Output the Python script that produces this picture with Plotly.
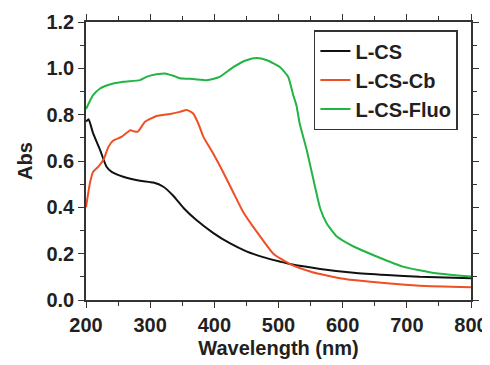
import plotly.graph_objects as go

# L-CS (black)
wl_cs = [200, 204, 211, 222, 232, 240, 258, 284, 305, 320, 336, 352, 372, 398, 424, 450, 476, 502, 518, 565, 617, 669, 720, 800]
abs_cs = [0.77, 0.78, 0.72, 0.647, 0.575, 0.553, 0.532, 0.515, 0.507, 0.49, 0.45, 0.397, 0.345, 0.29, 0.245, 0.21, 0.185, 0.166, 0.155, 0.134, 0.118, 0.108, 0.100, 0.094]

# L-CS-Cb (red)
wl_cb = [200, 206, 211, 219, 227, 235, 242, 256, 269, 276, 281, 292, 310, 331, 346, 357, 367, 375, 383, 398, 414, 430, 445, 466, 492, 518, 552, 565, 598, 617, 669, 720, 800]
abs_cb = [0.40, 0.503, 0.553, 0.575, 0.604, 0.661, 0.687, 0.705, 0.733, 0.727, 0.727, 0.769, 0.794, 0.803, 0.812, 0.820, 0.805, 0.762, 0.704, 0.633, 0.55, 0.462, 0.38, 0.295, 0.2, 0.155, 0.121, 0.112, 0.093, 0.086, 0.072, 0.062, 0.055]

# L-CS-Fluo (green)
wl_fl = [200, 211, 222, 237, 258, 284, 295, 310, 323, 336, 346, 367, 388, 398, 409, 430, 450, 466, 482, 502, 515, 523, 528, 533, 544, 557, 565, 575, 591, 617, 653, 694, 746, 800]
abs_fl = [0.824, 0.884, 0.913, 0.930, 0.942, 0.949, 0.964, 0.974, 0.978, 0.968, 0.957, 0.954, 0.949, 0.954, 0.964, 1.006, 1.035, 1.045, 1.035, 1.006, 0.964, 0.884, 0.84, 0.762, 0.647, 0.488, 0.395, 0.331, 0.274, 0.231, 0.188, 0.144, 0.115, 0.101]

names = ["L-CS", "L-CS-Cb", "L-CS-Fluo"]
colors = ["#111111", "#f04e23", "#22b445"]

FONT = "Liberation Sans, Arial, sans-serif"
AX = "#231f20"

fig = go.Figure()
for x, y, n, c in zip([wl_cs, wl_cb, wl_fl], [abs_cs, abs_cb, abs_fl], names, colors):
    fig.add_trace(go.Scatter(x=x, y=y, name="<b>" + n + "</b>", mode="lines",
                             line=dict(color=c, width=2, shape="spline", smoothing=0.5)))

axis_common = dict(showline=True, linecolor="#333333", linewidth=1.5, mirror="ticks",
                   ticks="outside", ticklen=6, tickwidth=1.2, tickcolor="#333333",
                   showgrid=False, zeroline=False,
                   tickfont=dict(family=FONT, size=20, color=AX))

fig.update_xaxes(range=[200, 800], dtick=100, tick0=200,
                 minor=dict(dtick=50, ticks="outside", ticklen=4, tickcolor="#333333"),
                 title=dict(text="<b>Wavelength (nm)</b>", font=dict(family=FONT, size=20, color=AX), standoff=6),
                 tickprefix="<b>", ticksuffix="</b>", **axis_common)
fig.update_yaxes(range=[0, 1.2], dtick=0.2, tick0=0, tickformat=".1f",
                 minor=dict(dtick=0.1, ticks="outside", ticklen=4, tickcolor="#333333"),
                 title=dict(text="<b>Abs</b>", font=dict(family=FONT, size=20, color=AX), standoff=8),
                 tickprefix="<b>", ticksuffix="</b>", **axis_common)

# page body has an 8px margin, so the figure is drawn at (8, 8)
fig.update_layout(
    width=482, height=357,
    margin=dict(l=78, r=19, t=14, b=65, autoexpand=False),
    plot_bgcolor="white", paper_bgcolor="white",
    legend=dict(x=0.966, y=0.971, xanchor="right", yanchor="top",
                bgcolor="white", bordercolor="#333333", borderwidth=1.5,
                font=dict(family=FONT, size=20, color=AX), itemwidth=30,
                tracegroupgap=0),
    showlegend=True,
)

fig.write_html("out.html")
